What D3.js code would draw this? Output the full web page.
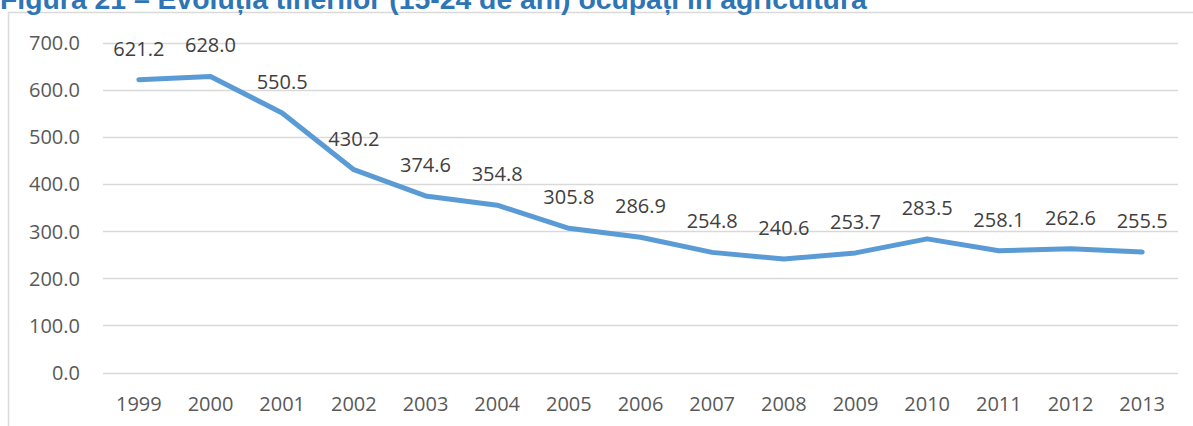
<!DOCTYPE html>
<html>
<head>
  <meta charset="utf-8">
  <title>Figura 21</title>
  <style>
    body { margin: 0; background: #fff; }
    svg { display: block; font-family: "Open Sans", sans-serif; }
    .grid line { stroke: #d9d9d9; stroke-width: 1.3; }
    .tick-y, .tick-x { fill: #595959; font-size: 20px; }
    .lbl { fill: #404040; font-size: 20px; }
  </style>
</head>
<body>
<svg id="chart" width="1193" height="426"></svg>

<script src="https://cdn.jsdelivr.net/npm/d3@7/dist/d3.min.js"></script>
<script>
var years = ['1999', '2000', '2001', '2002', '2003', '2004', '2005', '2006',
             '2007', '2008', '2009', '2010', '2011', '2012', '2013'];
var values = [621.2, 628.0, 550.5, 430.2, 374.6, 354.8, 305.8, 286.9,
              254.8, 240.6, 253.7, 283.5, 258.1, 262.6, 255.5];
var yTicks = [0, 100, 200, 300, 400, 500, 600, 700];
var title = 'Figura 21 – Evoluția tinerilor (15-24 de ani) ocupați în agricultură';

var svg = d3.select('#chart');

var plotLeft = 103, plotRight = 1178, plotTop = 42.5, plotBottom = 372.5;

var x = d3.scaleBand().domain(years).range([plotLeft, plotRight]);
var y = d3.scaleLinear().domain([0, 700]).range([plotBottom, plotTop]);

// chart box border (cropped at right and bottom)
svg.append('path')
  .attr('d', 'M8.5,426 V12.5 H1193')
  .attr('fill', 'none')
  .attr('stroke', '#d9d9d9')
  .attr('stroke-width', 1.5);

// title, cut off at the top of the picture
var t = svg.append('text')
  .attr('x', 0)
  .attr('y', 9)
  .attr('fill', '#2e75b6')
  .style('font-family', '"Liberation Sans", Arial, sans-serif')
  .style('font-weight', 'bold')
  .style('font-size', '20px')
  .text(title);
var w = t.node().getComputedTextLength();
t.style('font-size', (20 * 867 / w) + 'px');

// gridlines
svg.append('g').attr('class', 'grid')
  .selectAll('line')
  .data(yTicks)
  .enter().append('line')
  .attr('x1', plotLeft)
  .attr('x2', plotRight)
  .attr('y1', d => Math.round(y(d)) + 0.5)
  .attr('y2', d => Math.round(y(d)) + 0.5);

// y tick labels
svg.append('g')
  .selectAll('text')
  .data(yTicks)
  .enter().append('text')
  .attr('class', 'tick-y')
  .attr('x', 80)
  .attr('y', d => y(d) + 7.5)
  .attr('text-anchor', 'end')
  .text(d => d.toFixed(1));

// x tick labels
svg.append('g')
  .selectAll('text')
  .data(years)
  .enter().append('text')
  .attr('class', 'tick-x')
  .attr('x', d => x(d) + x.bandwidth() / 2)
  .attr('y', 411)
  .attr('text-anchor', 'middle')
  .text(d => d);

// line
var line = d3.line()
  .x((d, i) => x(years[i]) + x.bandwidth() / 2)
  .y(d => y(d));

svg.append('path')
  .datum(values)
  .attr('d', line)
  .attr('fill', 'none')
  .attr('stroke', '#5b9bd5')
  .attr('stroke-width', 5)
  .attr('stroke-linejoin', 'round')
  .attr('stroke-linecap', 'round');

// data labels
svg.append('g')
  .selectAll('text')
  .data(values)
  .enter().append('text')
  .attr('class', 'lbl')
  .attr('x', (d, i) => x(years[i]) + x.bandwidth() / 2)
  .attr('y', d => y(d) - 24)
  .attr('text-anchor', 'middle')
  .text(d => d.toFixed(1));
</script>
</body>
</html>
